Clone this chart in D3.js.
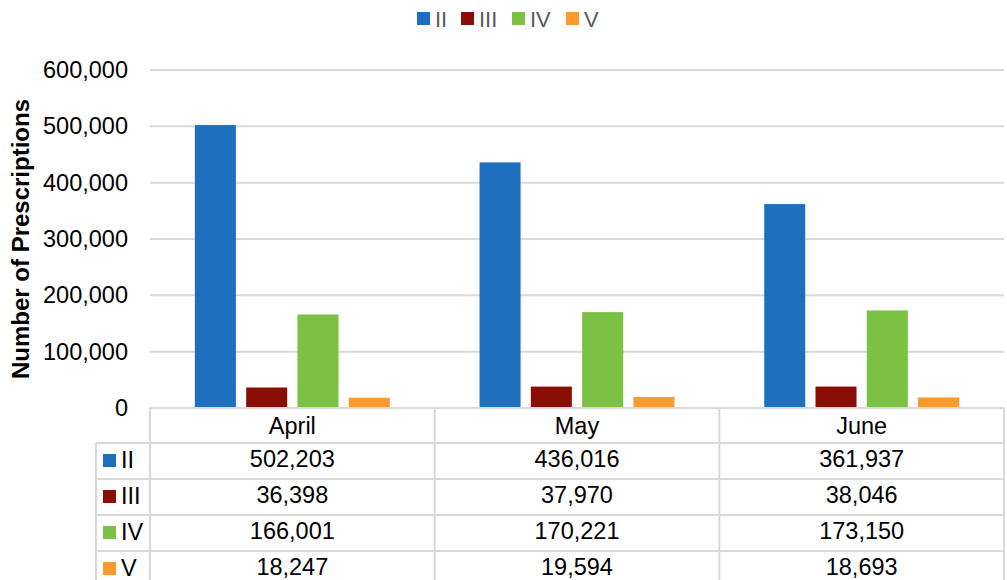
<!DOCTYPE html>
<html>
<head>
<meta charset="utf-8">
<script src="https://cdn.jsdelivr.net/npm/d3@7"></script>
<style>
  body { margin: 0; background: #fff; }
  text { font-family: "Liberation Sans", Arial, sans-serif; }
</style>
</head>
<body>
<svg id="chart" width="1007" height="580"></svg>
<script>
// data
const months = ['April', 'May', 'June'];
const schedules = ['II', 'III', 'IV', 'V'];
const colors = ['#1f6fbf', '#8b0e04', '#7bc143', '#f99a2b'];
const valuesII = [502203, 436016, 361937];
const valuesIII = [36398, 37970, 38046];
const valuesIV = [166001, 170221, 173150];
const valuesV = [18247, 19594, 18693];
const yTicks = [0, 100000, 200000, 300000, 400000, 500000, 600000];

const series = [valuesII, valuesIII, valuesIV, valuesV];

const svg = d3.select('#chart');
const plot = { left: 150, right: 1004, top: 70, bottom: 408 };
const fmt = d3.format(',');
const fontSize = '23.5px';

const x = d3.scaleBand()
    .domain(months)
    .range([plot.left, plot.right]);

const xInner = d3.scaleBand()
    .domain(schedules)
    .range([0, x.bandwidth()])
    .paddingInner(0.2)
    .paddingOuter(0.875);

const y = d3.scaleLinear()
    .domain([0, 600000])
    .range([plot.bottom, plot.top]);

// gridlines
svg.append('g')
    .selectAll('line')
    .data(yTicks.filter(d => d > 0))
    .join('line')
    .attr('x1', plot.left)
    .attr('x2', plot.right)
    .attr('y1', d => y(d))
    .attr('y2', d => y(d))
    .attr('stroke', '#d9d9d9')
    .attr('stroke-width', 2);

// y tick labels
svg.append('g')
    .selectAll('text')
    .data(yTicks)
    .join('text')
    .attr('x', 128)
    .attr('y', d => y(d) + 8)
    .attr('text-anchor', 'end')
    .attr('font-size', fontSize)
    .attr('fill', '#000')
    .text(d => fmt(d));

// y axis title
svg.append('text')
    .attr('transform', `translate(29,${(plot.top + plot.bottom) / 2}) rotate(-90)`)
    .attr('text-anchor', 'middle')
    .attr('font-size', '24px')
    .attr('font-weight', 'bold')
    .text('Number of Prescriptions');

// bars
schedules.forEach((s, i) => {
    svg.append('g')
        .selectAll('rect')
        .data(months.map((m, j) => ({ month: m, value: series[i][j] })))
        .join('rect')
        .attr('x', d => x(d.month) + xInner(s))
        .attr('width', xInner.bandwidth())
        .attr('y', d => y(d.value))
        .attr('height', d => y(0) - y(d.value))
        .attr('fill', colors[i]);
});

// legend
const legendX = [417, 461, 512, 566];
const legend = svg.append('g');
schedules.forEach((s, i) => {
    legend.append('rect')
        .attr('x', legendX[i])
        .attr('y', 12)
        .attr('width', 13)
        .attr('height', 13)
        .attr('fill', colors[i]);
    legend.append('text')
        .attr('x', legendX[i] + 18)
        .attr('y', 27)
        .attr('font-size', '22px')
        .attr('fill', '#595959')
        .text(s);
});

// data table under the axis
const table = { left: 96, headerTop: 408, headerH: 35, rowH: 36 };
const grid = svg.append('g')
    .attr('stroke', '#d9d9d9')
    .attr('stroke-width', 2)
    .attr('fill', 'none');

const rowTop = i => table.headerTop + table.headerH + i * table.rowH;

// top of header (month columns only)
grid.append('line')
    .attr('x1', plot.left).attr('x2', plot.right)
    .attr('y1', table.headerTop).attr('y2', table.headerTop);
// horizontal row lines
schedules.forEach((s, i) => {
    grid.append('line')
        .attr('x1', table.left).attr('x2', plot.right)
        .attr('y1', rowTop(i)).attr('y2', rowTop(i));
});
// vertical lines
grid.append('line')
    .attr('x1', table.left).attr('x2', table.left)
    .attr('y1', rowTop(0)).attr('y2', 580);
[plot.left, ...months.map(m => x(m) + x.bandwidth())].forEach(xv => {
    grid.append('line')
        .attr('x1', xv).attr('x2', xv)
        .attr('y1', table.headerTop).attr('y2', 580);
});

// month names
svg.append('g')
    .selectAll('text')
    .data(months)
    .join('text')
    .attr('x', d => x(d) + x.bandwidth() / 2)
    .attr('y', table.headerTop + 26)
    .attr('text-anchor', 'middle')
    .attr('font-size', fontSize)
    .text(d => d);

// row labels and values
schedules.forEach((s, i) => {
    const top = rowTop(i);
    svg.append('rect')
        .attr('x', 103)
        .attr('y', top + 11)
        .attr('width', 13)
        .attr('height', 13)
        .attr('fill', colors[i]);
    svg.append('text')
        .attr('x', 121)
        .attr('y', top + 25)
        .attr('font-size', fontSize)
        .text(s);
    svg.append('g')
        .selectAll('text')
        .data(months.map((m, j) => ({ month: m, value: series[i][j] })))
        .join('text')
        .attr('x', d => x(d.month) + x.bandwidth() / 2)
        .attr('y', top + 24)
        .attr('text-anchor', 'middle')
        .attr('font-size', fontSize)
        .text(d => fmt(d.value));
});
</script>
</body>
</html>
